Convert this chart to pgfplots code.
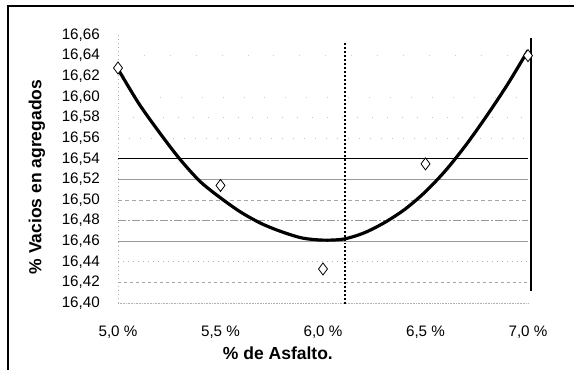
\documentclass[border=0pt]{standalone}
\usepackage{pgfplots}
\pgfplotsset{compat=1.18}
\usepackage{fontspec}
\setmainfont{Liberation Sans}
\begin{document}
\begin{tikzpicture}[x=1bp,y=1bp]
\useasboundingbox (-118bp,-67bp) rectangle (456bp,303bp);
\begin{axis}[
  at={(0,0)}, anchor=origin,
  scale only axis, width=410bp, height=268bp,
  xmin=5, xmax=7, ymin=16.40, ymax=16.66,
  clip=false,
  axis line style={draw=none},
  major tick length=0pt,
  xtick={5,5.5,6,6.5,7},
  xticklabels={{5,0 \%},{5,5 \%},{6,0 \%},{6,5 \%},{7,0 \%}},
  ytick={16.40,16.42,16.44,16.46,16.48,16.50,16.52,16.54,16.56,16.58,16.60,16.62,16.64,16.66},
  /pgf/number format/fixed, /pgf/number format/fixed zerofill, /pgf/number format/precision=2,
  /pgf/number format/use comma, /pgf/number format/1000 sep={}, /pgf/number format/assume math mode=true,
  tick label style={font=\fontsize{15.2bp}{17bp}\selectfont, inner sep=0pt},
  yticklabel style={anchor=east, xshift=-18bp},
  xticklabel style={anchor=north, yshift=-23bp},
  xlabel={\% de Asfalto.},
  ylabel={\% Vacios en agregados},
  label style={font=\fontsize{17.5bp}{20bp}\selectfont\bfseries},
  xlabel style={at={(axis description cs:0.39,0)}, anchor=center, yshift=-50bp},
  ylabel style={at={(axis description cs:0,0.47)}, anchor=center, rotate=0, yshift=81bp},
]
% grid lines (scanned appearance)
\addplot[gray!60, densely dotted, line width=0.6pt] coordinates {(5,16.40) (7,16.40)};
\addplot[gray!70, dash pattern=on 3pt off 3pt, line width=0.6pt] coordinates {(5,16.42) (7,16.42)};
\addplot[gray!60, dash pattern=on 1pt off 4pt, line width=0.6pt] coordinates {(5,16.44) (7,16.44)};
\addplot[gray!80, line width=0.8pt] coordinates {(5,16.46) (7,16.46)};
\addplot[gray!80, dash pattern=on 8pt off 2pt on 2pt off 2pt, line width=0.7pt] coordinates {(5,16.48) (7,16.48)};
\addplot[gray!70, dash pattern=on 4pt off 3pt, line width=0.6pt] coordinates {(5,16.50) (7,16.50)};
\addplot[gray!80, line width=0.8pt] coordinates {(5,16.52) (7,16.52)};
\addplot[black, line width=0.7pt] coordinates {(5,16.54) (7,16.54)};
\addplot[gray!50, dash pattern=on 1pt off 10pt, line width=0.6pt] coordinates {(5,16.56) (7,16.56)};
\addplot[gray!50, dash pattern=on 1pt off 14pt, line width=0.6pt] coordinates {(5,16.58) (7,16.58)};
\addplot[gray!40, dash pattern=on 1pt off 20pt, line width=0.6pt] coordinates {(5,16.60) (7,16.60)};
\addplot[gray!40, dash pattern=on 1pt off 25pt, line width=0.6pt] coordinates {(5,16.64) (7,16.64)};
\addplot[gray!60, dash pattern=on 1pt off 3pt, line width=0.6pt] coordinates {(5,16.40) (5,16.66)};
% trend curve
\addplot[black, line width=3.2pt, smooth] coordinates {
(5.0,16.627) (5.1,16.594) (5.2,16.566) (5.3,16.540) (5.4,16.518) (5.5,16.502)
(5.6,16.488) (5.7,16.477) (5.8,16.469) (5.9,16.463) (6.0,16.461) (6.1,16.462)
(6.2,16.468) (6.3,16.478) (6.4,16.491) (6.5,16.508) (6.6,16.529) (6.7,16.554)
(6.8,16.582) (6.9,16.612) (7.0,16.645)};
% data points
\addplot[only marks, mark=diamond*, mark size=6bp, mark options={fill=white, draw=black, line width=0.8pt}] coordinates {
(5.0,16.628) (5.5,16.514) (6.0,16.433) (6.5,16.535) (7.0,16.640)};
% vertical dotted line
\addplot[black, line width=2.6pt, dash pattern=on 2pt off 2pt] coordinates {(6.107,16.652) (6.107,16.398)};
% right solid line
\addplot[black, line width=2.4pt] coordinates {(7.015,16.657) (7.015,16.412)};
\end{axis}
\draw[line width=2.8bp] (-110bp,-70bp) -- (-110bp,297bp) -- (460bp,297bp);
\end{tikzpicture}
\end{document}
